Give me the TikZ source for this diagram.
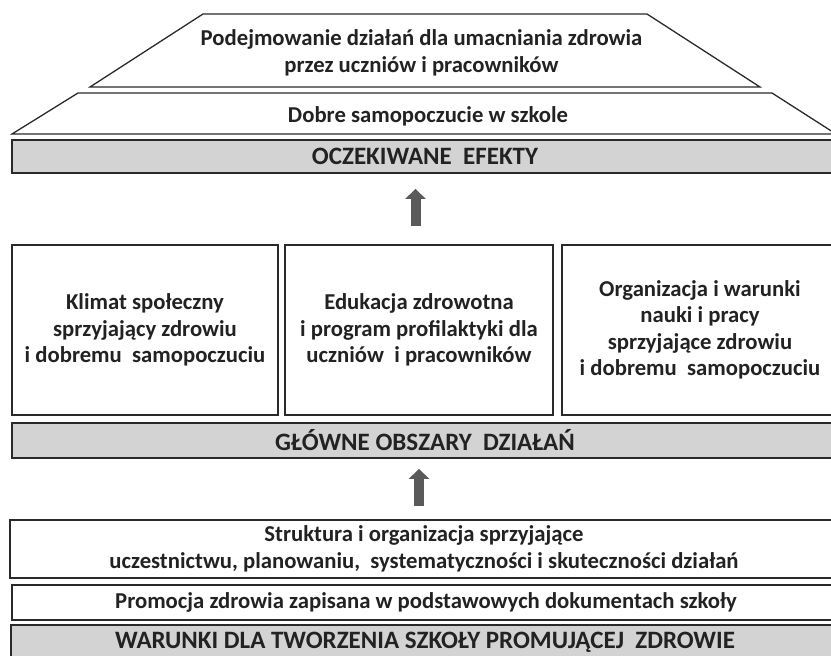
\documentclass[tikz,border=0pt]{standalone}
\usepackage{fontspec}
\setmainfont{Carlito}
\usetikzlibrary{arrows.meta}
\definecolor{linec}{HTML}{2A2A2A}
\definecolor{barfill}{HTML}{D3D3D3}
\definecolor{arrowc}{HTML}{5A5A5A}
\definecolor{textc}{HTML}{222222}
\begin{document}
\begin{tikzpicture}[x=1pt,y=-1pt,
  txt/.style={text=textc, font=\bfseries\fontsize{22.7}{26.5}\selectfont, align=center, inner sep=0pt},
  frame/.style={txt, draw=linec, line width=1.8pt},
  bar/.style={frame, fill=barfill, font=\bfseries\fontsize{25}{28}\selectfont},
  boxw/.style={frame, fill=white},
  trap/.style={draw=linec, line width=1.3pt, fill=white},
  bigarrow/.style={draw=arrowc, line width=10pt, -{Triangle[width=20pt,length=10pt]}}]
\useasboundingbox (0,0) rectangle (831,656);
\clip (0,0) rectangle (831,656);
% trapezoids
\draw[trap] (203,14) -- (647,14) -- (760,87) -- (90,87) -- cycle;
\draw[trap] (78,93) -- (772,93) -- (836,134) -- (12,134) -- cycle;
\node[txt] (pod) at (421.5,53) {Podejmowanie dzia\l{}a\'n dla umacniania zdrowia\\przez uczni\'ow i pracownik\'ow};
\node[txt] (dobre) at (428,116) {Dobre samopoczucie w szkole};
% expected effects bar
\node[bar, minimum width=826pt, minimum height=33pt] (efekty) at (425,156.5) {OCZEKIWANE\ \ EFEKTY};
% three areas
\node[boxw, minimum width=266pt, minimum height=170pt] (k1) at (145,330) {Klimat spo\l{}eczny\\sprzyjaj\k{a}cy zdrowiu\\i dobremu\ \ samopoczuciu};
\node[boxw, minimum width=268pt, minimum height=170pt] (k2) at (419,330) {Edukacja zdrowotna\\i program profilaktyki dla\\uczni\'ow\ \ i pracownik\'ow};
\node[boxw, minimum width=276pt, minimum height=170pt] (k3) at (700,330) {Organizacja i warunki\\nauki i pracy\\sprzyjaj\k{a}ce zdrowiu\\i dobremu\ \ samopoczuciu};
\node[bar, minimum width=826pt, minimum height=35pt] (glowne) at (425,440.5) {G\L{}\'OWNE OBSZARY\ \ DZIA\L{}A\'N};
% conditions
\node[boxw, minimum width=828pt, minimum height=58pt] (struktura) at (424,549) {Struktura i organizacja sprzyjaj\k{a}ce\\uczestnictwu, planowaniu,\ \ systematyczno\'sci i skuteczno\'sci dzia\l{}a\'n};
\node[boxw, minimum width=828pt, minimum height=35pt] (promocja) at (426,602.5) {Promocja\ zdrowia zapisana w podstawowych\ dokumentach\ szko\l{}y};
\node[bar, minimum width=828pt, minimum height=35pt] (warunki) at (425,642.5) {WARUNKI\ DLA\ TWORZENIA\ SZKO\L{}Y\ PROMUJ\k{A}CEJ\ \ ZDROWIE};
% arrows
\draw[bigarrow, shorten <=18pt, shorten >=15pt] ([xshift=-3.5pt]k2.north) -- ([xshift=-3.5pt]k2.north |- efekty.south);
\draw[bigarrow, shorten <=13pt, shorten >=10pt] (struktura.north -| k2.north) -- (glowne.south -| k2.north);
\end{tikzpicture}
\end{document}
